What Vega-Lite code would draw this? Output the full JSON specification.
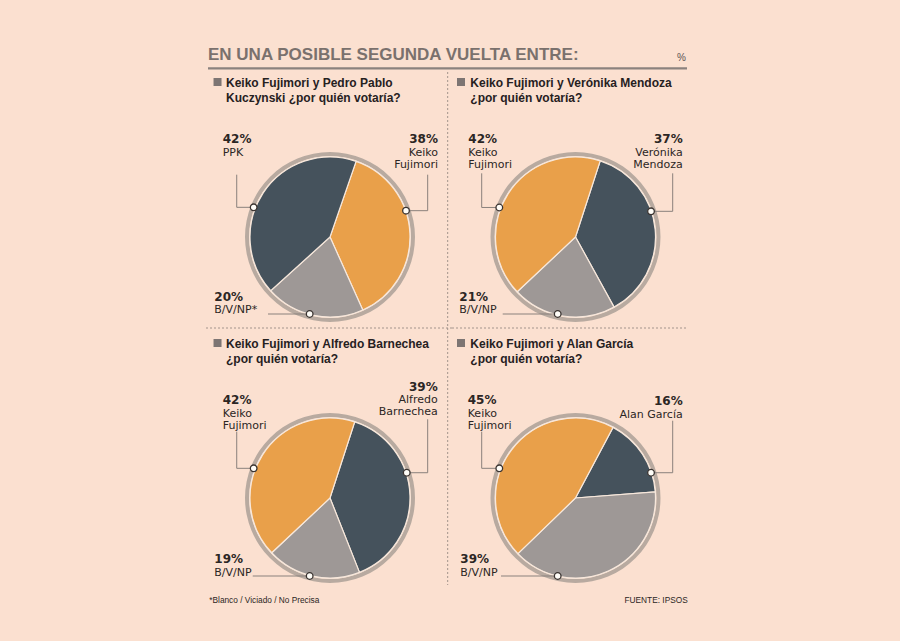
{
  "$schema": "https://vega.github.io/schema/vega-lite/v6.json",
  "background": "#FBE0D0",
  "padding": {"left": 205, "top": 38, "right": 203, "bottom": 23},
  "autosize": {"type": "pad"},
  "config": {"view": {"stroke": null}, "axis": {"disable": true}, "legend": {"disable": true}},
  "datasets": {
    "p1": [
      {"candidato": "Keiko Fujimori", "grupo": "Keiko Fujimori", "pct": 0.38, "orden": 1},
      {"candidato": "Blanco / Viciado / No precisa", "grupo": "B/V/NP", "pct": 0.20, "orden": 2},
      {"candidato": "Pedro Pablo Kuczynski", "grupo": "Contendor", "pct": 0.42, "orden": 3}
    ],
    "p1_anot": [
      {"candidato": "Pedro Pablo Kuczynski", "etiqueta": "PPK", "lado": "izq", "x": -134.1, "y": 117.5, "x_guia": -116.6, "y_guia": 77.9, "x_codo": -116.6, "y_codo": 37.1, "x_punto": -95.4, "y_punto": 37.1},
      {"candidato": "Keiko Fujimori", "etiqueta": "Keiko\nFujimori", "lado": "der", "x": 135, "y": 117.5, "x_guia": 122.1, "y_guia": 77.9, "x_codo": 122.1, "y_codo": 32.9, "x_punto": 95, "y_punto": 32.9},
      {"candidato": "Blanco / Viciado / No precisa", "etiqueta": "B/V/NP*", "lado": "izq", "x": -144.6, "y": -79.6, "x_guia": -77.5, "y_guia": -96.25, "x_codo": -77.5, "y_codo": -96.25, "x_punto": -25.4, "y_punto": -96.25}
    ],
    "p2": [
      {"candidato": "Verónika Mendoza", "grupo": "Contendor", "pct": 0.37, "orden": 1},
      {"candidato": "Blanco / Viciado / No precisa", "grupo": "B/V/NP", "pct": 0.21, "orden": 2},
      {"candidato": "Keiko Fujimori", "grupo": "Keiko Fujimori", "pct": 0.42, "orden": 3}
    ],
    "p2_anot": [
      {"candidato": "Keiko Fujimori", "etiqueta": "Keiko\nFujimori", "lado": "izq", "x": -134, "y": 117.5, "x_guia": -117.25, "y_guia": 79.6, "x_codo": -117.25, "y_codo": 36.9, "x_punto": -95.25, "y_punto": 36.9},
      {"candidato": "Verónika Mendoza", "etiqueta": "Verónika\nMendoza", "lado": "der", "x": 134, "y": 117.5, "x_guia": 121.5, "y_guia": 79.6, "x_codo": 121.5, "y_codo": 32.1, "x_punto": 94.4, "y_punto": 32.1},
      {"candidato": "Blanco / Viciado / No precisa", "etiqueta": "B/V/NP", "lado": "izq", "x": -145.25, "y": -79.6, "x_guia": -91, "y_guia": -96.25, "x_codo": -91, "y_codo": -96.25, "x_punto": -22.25, "y_punto": -96.25}
    ],
    "p3": [
      {"candidato": "Alfredo Barnechea", "grupo": "Contendor", "pct": 0.39, "orden": 1},
      {"candidato": "Blanco / Viciado / No precisa", "grupo": "B/V/NP", "pct": 0.19, "orden": 2},
      {"candidato": "Keiko Fujimori", "grupo": "Keiko Fujimori", "pct": 0.42, "orden": 3}
    ],
    "p3_anot": [
      {"candidato": "Keiko Fujimori", "etiqueta": "Keiko\nFujimori", "lado": "izq", "x": -134.1, "y": 117.5, "x_guia": -116.6, "y_guia": 82.9, "x_codo": -116.6, "y_codo": 37.1, "x_punto": -95.4, "y_punto": 37.1},
      {"candidato": "Alfredo Barnechea", "etiqueta": "Alfredo\nBarnechea", "lado": "der", "x": 134.6, "y": 134.1, "x_guia": 122.1, "y_guia": 98.4, "x_codo": 122.1, "y_codo": 31.6, "x_punto": 95.9, "y_punto": 31.6},
      {"candidato": "Blanco / Viciado / No precisa", "etiqueta": "B/V/NP", "lado": "izq", "x": -144.6, "y": -81.6, "x_guia": -96.6, "y_guia": -97.5, "x_codo": -96.6, "y_codo": -97.5, "x_punto": -25.4, "y_punto": -97.5}
    ],
    "p4": [
      {"candidato": "Alan García", "grupo": "Contendor", "pct": 0.16, "orden": 1},
      {"candidato": "Blanco / Viciado / No precisa", "grupo": "B/V/NP", "pct": 0.39, "orden": 2},
      {"candidato": "Keiko Fujimori", "grupo": "Keiko Fujimori", "pct": 0.45, "orden": 3}
    ],
    "p4_anot": [
      {"candidato": "Keiko Fujimori", "etiqueta": "Keiko\nFujimori", "lado": "izq", "x": -134.75, "y": 117.5, "x_guia": -117.25, "y_guia": 82.9, "x_codo": -117.25, "y_codo": 37.1, "x_punto": -95.25, "y_punto": 37.1},
      {"candidato": "Alan García", "etiqueta": "Alan García", "lado": "der", "x": 134, "y": 116.25, "x_guia": 121.5, "y_guia": 96.6, "x_codo": 121.5, "y_codo": 31.6, "x_punto": 94.4, "y_punto": 31.6},
      {"candidato": "Blanco / Viciado / No precisa", "etiqueta": "B/V/NP", "lado": "izq", "x": -144, "y": -81.6, "x_guia": -93.1, "y_guia": -97.5, "x_codo": -93.1, "y_codo": -97.5, "x_punto": -22.25, "y_punto": -97.5}
    ]
  },
  "spacing": 0,
  "bounds": "flush",
  "columns": 2,
  "concat": [
    {
      "width": 246,
      "height": 290,
      "layer": [
        {"data": {"values": [{}]}, "mark": {"type": "arc", "radius": 85, "radius2": 81, "theta": 0, "theta2": 6.2832, "fill": "#B8AAA0"},
         "encoding": {"x": {"datum": 0, "type": "quantitative", "scale": {"domain": [-155, 152.5], "nice": false, "zero": false}},
                      "y": {"datum": 0, "type": "quantitative", "scale": {"domain": [-113.75, 248.75], "nice": false, "zero": false}}}},
        {"data": {"name": "p1"}, "mark": {"type": "arc", "radius": 80, "stroke": "#F7E8DC", "strokeWidth": 1.2},
         "encoding": {"x": {"datum": 0, "type": "quantitative"}, "y": {"datum": 0, "type": "quantitative"},
                      "theta": {"field": "pct", "type": "quantitative", "stack": true, "scale": {"domain": [0, 1], "range": [0.332, 6.615]}},
                      "color": {"field": "grupo", "type": "nominal", "scale": {"domain": ["Keiko Fujimori", "Contendor", "B/V/NP"], "range": ["#E9A04A", "#45525C", "#9E9896"]}},
                      "order": {"field": "orden", "type": "quantitative"}}},
        {"data": {"name": "p1_anot"}, "mark": {"type": "rule", "color": "#8A817C", "strokeWidth": 1},
         "encoding": {"x": {"field": "x_guia", "type": "quantitative"}, "y": {"field": "y_guia", "type": "quantitative"}, "x2": {"field": "x_codo"}, "y2": {"field": "y_codo"}}},
        {"data": {"name": "p1_anot"}, "mark": {"type": "rule", "color": "#8A817C", "strokeWidth": 1},
         "encoding": {"x": {"field": "x_codo", "type": "quantitative"}, "y": {"field": "y_codo", "type": "quantitative"}, "x2": {"field": "x_punto"}, "y2": {"field": "y_punto"}}},
        {"data": {"name": "p1_anot"}, "mark": {"type": "point", "shape": "circle", "size": 44, "filled": true, "fill": "#FFFDF8", "stroke": "#3A3330", "strokeWidth": 1.3, "opacity": 1},
         "encoding": {"x": {"field": "x_punto", "type": "quantitative"}, "y": {"field": "y_punto", "type": "quantitative"}}},
        {"data": {"name": "p1_anot"}, "transform": [{"filter": "datum.lado === 'izq'"}, {"lookup": "candidato", "from": {"data": {"name": "p1"}, "key": "candidato", "fields": ["pct"]}}],
         "mark": {"type": "text", "align": "left", "baseline": "alphabetic", "font": "DejaVu Sans", "fontSize": 12, "fontWeight": "bold", "color": "#2B2624"},
         "encoding": {"x": {"field": "x", "type": "quantitative"}, "y": {"field": "y", "type": "quantitative"}, "text": {"field": "pct", "type": "quantitative", "format": ".0%"}}},
        {"data": {"name": "p1_anot"}, "transform": [{"filter": "datum.lado === 'der'"}, {"lookup": "candidato", "from": {"data": {"name": "p1"}, "key": "candidato", "fields": ["pct"]}}],
         "mark": {"type": "text", "align": "right", "baseline": "alphabetic", "font": "DejaVu Sans", "fontSize": 12, "fontWeight": "bold", "color": "#2B2624"},
         "encoding": {"x": {"field": "x", "type": "quantitative"}, "y": {"field": "y", "type": "quantitative"}, "text": {"field": "pct", "type": "quantitative", "format": ".0%"}}},
        {"data": {"name": "p1_anot"}, "transform": [{"filter": "datum.lado === 'izq'"}],
         "mark": {"type": "text", "align": "left", "baseline": "alphabetic", "font": "DejaVu Sans", "fontSize": 11, "lineBreak": "\n", "lineHeight": 12, "dy": 12.5, "color": "#2B2624"},
         "encoding": {"x": {"field": "x", "type": "quantitative"}, "y": {"field": "y", "type": "quantitative"}, "text": {"field": "etiqueta", "type": "nominal"}}},
        {"data": {"name": "p1_anot"}, "transform": [{"filter": "datum.lado === 'der'"}],
         "mark": {"type": "text", "align": "right", "baseline": "alphabetic", "font": "DejaVu Sans", "fontSize": 11, "lineBreak": "\n", "lineHeight": 12, "dy": 12.5, "color": "#2B2624"},
         "encoding": {"x": {"field": "x", "type": "quantitative"}, "y": {"field": "y", "type": "quantitative"}, "text": {"field": "etiqueta", "type": "nominal"}}},
        {"data": {"values": [{}]}, "mark": {"type": "square", "size": 64, "color": "#7D7573", "opacity": 1},
         "encoding": {"x": {"datum": -140.6, "type": "quantitative"}, "y": {"datum": 193.75, "type": "quantitative"}}},
        {"data": {"values": [{}]}, "mark": {"type": "text", "align": "left", "baseline": "alphabetic", "font": "Liberation Sans", "fontSize": 12, "fontWeight": "bold", "lineBreak": "\n", "lineHeight": 15, "color": "#26211F"},
         "encoding": {"x": {"datum": -130, "type": "quantitative"}, "y": {"datum": 187.5, "type": "quantitative"}, "text": {"value": "Keiko Fujimori y Pedro Pablo\nKuczynski ¿por quién votaría?"}}},
        {"data": {"values": [{}]}, "mark": {"type": "text", "align": "left", "baseline": "alphabetic", "font": "Liberation Sans", "fontSize": 17, "fontWeight": "bold", "color": "#7A716D"},
         "encoding": {"x": {"datum": -152.5, "type": "quantitative"}, "y": {"datum": 221.25, "type": "quantitative"}, "text": {"value": "EN UNA POSIBLE SEGUNDA VUELTA ENTRE:"}}},
        {"data": {"values": [{}]}, "mark": {"type": "text", "align": "right", "baseline": "alphabetic", "font": "Liberation Sans", "fontSize": 10, "color": "#5A5250"},
         "encoding": {"x": {"datum": 445, "type": "quantitative"}, "y": {"datum": 220, "type": "quantitative"}, "text": {"value": "%"}}},
        {"data": {"values": [{}]}, "mark": {"type": "rule", "color": "#8B827E", "strokeWidth": 2.2},
         "encoding": {"x": {"datum": -152.5, "type": "quantitative"}, "x2": {"datum": 446.25}, "y": {"datum": 210.9, "type": "quantitative"}}},
        {"data": {"values": [{}]}, "mark": {"type": "rule", "color": "#A3948C", "strokeWidth": 1, "strokeDash": [2, 2]},
         "encoding": {"x": {"datum": -155, "type": "quantitative"}, "x2": {"datum": 152.5}, "y": {"datum": -113.75, "type": "quantitative"}}},
        {"data": {"values": [{}]}, "mark": {"type": "rule", "color": "#A3948C", "strokeWidth": 1, "strokeDash": [2, 2]},
         "encoding": {"x": {"datum": 147.1, "type": "quantitative"}, "y": {"datum": 206.25, "type": "quantitative"}, "y2": {"datum": -113.75}}}
      ]
    },
    {
      "width": 246,
      "height": 290,
      "layer": [
        {"data": {"values": [{}]}, "mark": {"type": "arc", "radius": 85, "radius2": 81, "theta": 0, "theta2": 6.2832, "fill": "#B8AAA0"},
         "encoding": {"x": {"datum": 0, "type": "quantitative", "scale": {"domain": [-154.375, 153.125], "nice": false, "zero": false}},
                      "y": {"datum": 0, "type": "quantitative", "scale": {"domain": [-113.75, 248.75], "nice": false, "zero": false}}}},
        {"data": {"name": "p2"}, "mark": {"type": "arc", "radius": 80, "stroke": "#F7E8DC", "strokeWidth": 1.2},
         "encoding": {"x": {"datum": 0, "type": "quantitative"}, "y": {"datum": 0, "type": "quantitative"},
                      "theta": {"field": "pct", "type": "quantitative", "stack": true, "scale": {"domain": [0, 1], "range": [0.314, 6.597]}},
                      "color": {"field": "grupo", "type": "nominal", "scale": {"domain": ["Keiko Fujimori", "Contendor", "B/V/NP"], "range": ["#E9A04A", "#45525C", "#9E9896"]}},
                      "order": {"field": "orden", "type": "quantitative"}}},
        {"data": {"name": "p2_anot"}, "mark": {"type": "rule", "color": "#8A817C", "strokeWidth": 1},
         "encoding": {"x": {"field": "x_guia", "type": "quantitative"}, "y": {"field": "y_guia", "type": "quantitative"}, "x2": {"field": "x_codo"}, "y2": {"field": "y_codo"}}},
        {"data": {"name": "p2_anot"}, "mark": {"type": "rule", "color": "#8A817C", "strokeWidth": 1},
         "encoding": {"x": {"field": "x_codo", "type": "quantitative"}, "y": {"field": "y_codo", "type": "quantitative"}, "x2": {"field": "x_punto"}, "y2": {"field": "y_punto"}}},
        {"data": {"name": "p2_anot"}, "mark": {"type": "point", "shape": "circle", "size": 44, "filled": true, "fill": "#FFFDF8", "stroke": "#3A3330", "strokeWidth": 1.3, "opacity": 1},
         "encoding": {"x": {"field": "x_punto", "type": "quantitative"}, "y": {"field": "y_punto", "type": "quantitative"}}},
        {"data": {"name": "p2_anot"}, "transform": [{"filter": "datum.lado === 'izq'"}, {"lookup": "candidato", "from": {"data": {"name": "p2"}, "key": "candidato", "fields": ["pct"]}}],
         "mark": {"type": "text", "align": "left", "baseline": "alphabetic", "font": "DejaVu Sans", "fontSize": 12, "fontWeight": "bold", "color": "#2B2624"},
         "encoding": {"x": {"field": "x", "type": "quantitative"}, "y": {"field": "y", "type": "quantitative"}, "text": {"field": "pct", "type": "quantitative", "format": ".0%"}}},
        {"data": {"name": "p2_anot"}, "transform": [{"filter": "datum.lado === 'der'"}, {"lookup": "candidato", "from": {"data": {"name": "p2"}, "key": "candidato", "fields": ["pct"]}}],
         "mark": {"type": "text", "align": "right", "baseline": "alphabetic", "font": "DejaVu Sans", "fontSize": 12, "fontWeight": "bold", "color": "#2B2624"},
         "encoding": {"x": {"field": "x", "type": "quantitative"}, "y": {"field": "y", "type": "quantitative"}, "text": {"field": "pct", "type": "quantitative", "format": ".0%"}}},
        {"data": {"name": "p2_anot"}, "transform": [{"filter": "datum.lado === 'izq'"}],
         "mark": {"type": "text", "align": "left", "baseline": "alphabetic", "font": "DejaVu Sans", "fontSize": 11, "lineBreak": "\n", "lineHeight": 12, "dy": 12.5, "color": "#2B2624"},
         "encoding": {"x": {"field": "x", "type": "quantitative"}, "y": {"field": "y", "type": "quantitative"}, "text": {"field": "etiqueta", "type": "nominal"}}},
        {"data": {"name": "p2_anot"}, "transform": [{"filter": "datum.lado === 'der'"}],
         "mark": {"type": "text", "align": "right", "baseline": "alphabetic", "font": "DejaVu Sans", "fontSize": 11, "lineBreak": "\n", "lineHeight": 12, "dy": 12.5, "color": "#2B2624"},
         "encoding": {"x": {"field": "x", "type": "quantitative"}, "y": {"field": "y", "type": "quantitative"}, "text": {"field": "etiqueta", "type": "nominal"}}},
        {"data": {"values": [{}]}, "mark": {"type": "square", "size": 64, "color": "#7D7573", "opacity": 1},
         "encoding": {"x": {"datum": -143.1, "type": "quantitative"}, "y": {"datum": 193.75, "type": "quantitative"}}},
        {"data": {"values": [{}]}, "mark": {"type": "text", "align": "left", "baseline": "alphabetic", "font": "Liberation Sans", "fontSize": 12, "fontWeight": "bold", "lineBreak": "\n", "lineHeight": 15, "color": "#26211F"},
         "encoding": {"x": {"datum": -131.5, "type": "quantitative"}, "y": {"datum": 187.5, "type": "quantitative"}, "text": {"value": "Keiko Fujimori y Verónika Mendoza\n¿por quién votaría?"}}},
        {"data": {"values": [{}]}, "mark": {"type": "rule", "color": "#A3948C", "strokeWidth": 1, "strokeDash": [2, 2]},
         "encoding": {"x": {"datum": -154.375, "type": "quantitative"}, "x2": {"datum": 139.375}, "y": {"datum": -113.75, "type": "quantitative"}}}
      ]
    },
    {
      "width": 246,
      "height": 290,
      "layer": [
        {"data": {"values": [{}]}, "mark": {"type": "arc", "radius": 85, "radius2": 81, "theta": 0, "theta2": 6.2832, "fill": "#B8AAA0"},
         "encoding": {"x": {"datum": 0, "type": "quantitative", "scale": {"domain": [-155, 152.5], "nice": false, "zero": false}},
                      "y": {"datum": 0, "type": "quantitative", "scale": {"domain": [-150, 212.5], "nice": false, "zero": false}}}},
        {"data": {"name": "p3"}, "mark": {"type": "arc", "radius": 80, "stroke": "#F7E8DC", "strokeWidth": 1.2},
         "encoding": {"x": {"datum": 0, "type": "quantitative"}, "y": {"datum": 0, "type": "quantitative"},
                      "theta": {"field": "pct", "type": "quantitative", "stack": true, "scale": {"domain": [0, 1], "range": [0.314, 6.597]}},
                      "color": {"field": "grupo", "type": "nominal", "scale": {"domain": ["Keiko Fujimori", "Contendor", "B/V/NP"], "range": ["#E9A04A", "#45525C", "#9E9896"]}},
                      "order": {"field": "orden", "type": "quantitative"}}},
        {"data": {"name": "p3_anot"}, "mark": {"type": "rule", "color": "#8A817C", "strokeWidth": 1},
         "encoding": {"x": {"field": "x_guia", "type": "quantitative"}, "y": {"field": "y_guia", "type": "quantitative"}, "x2": {"field": "x_codo"}, "y2": {"field": "y_codo"}}},
        {"data": {"name": "p3_anot"}, "mark": {"type": "rule", "color": "#8A817C", "strokeWidth": 1},
         "encoding": {"x": {"field": "x_codo", "type": "quantitative"}, "y": {"field": "y_codo", "type": "quantitative"}, "x2": {"field": "x_punto"}, "y2": {"field": "y_punto"}}},
        {"data": {"name": "p3_anot"}, "mark": {"type": "point", "shape": "circle", "size": 44, "filled": true, "fill": "#FFFDF8", "stroke": "#3A3330", "strokeWidth": 1.3, "opacity": 1},
         "encoding": {"x": {"field": "x_punto", "type": "quantitative"}, "y": {"field": "y_punto", "type": "quantitative"}}},
        {"data": {"name": "p3_anot"}, "transform": [{"filter": "datum.lado === 'izq'"}, {"lookup": "candidato", "from": {"data": {"name": "p3"}, "key": "candidato", "fields": ["pct"]}}],
         "mark": {"type": "text", "align": "left", "baseline": "alphabetic", "font": "DejaVu Sans", "fontSize": 12, "fontWeight": "bold", "color": "#2B2624"},
         "encoding": {"x": {"field": "x", "type": "quantitative"}, "y": {"field": "y", "type": "quantitative"}, "text": {"field": "pct", "type": "quantitative", "format": ".0%"}}},
        {"data": {"name": "p3_anot"}, "transform": [{"filter": "datum.lado === 'der'"}, {"lookup": "candidato", "from": {"data": {"name": "p3"}, "key": "candidato", "fields": ["pct"]}}],
         "mark": {"type": "text", "align": "right", "baseline": "alphabetic", "font": "DejaVu Sans", "fontSize": 12, "fontWeight": "bold", "color": "#2B2624"},
         "encoding": {"x": {"field": "x", "type": "quantitative"}, "y": {"field": "y", "type": "quantitative"}, "text": {"field": "pct", "type": "quantitative", "format": ".0%"}}},
        {"data": {"name": "p3_anot"}, "transform": [{"filter": "datum.lado === 'izq'"}],
         "mark": {"type": "text", "align": "left", "baseline": "alphabetic", "font": "DejaVu Sans", "fontSize": 11, "lineBreak": "\n", "lineHeight": 12, "dy": 12.5, "color": "#2B2624"},
         "encoding": {"x": {"field": "x", "type": "quantitative"}, "y": {"field": "y", "type": "quantitative"}, "text": {"field": "etiqueta", "type": "nominal"}}},
        {"data": {"name": "p3_anot"}, "transform": [{"filter": "datum.lado === 'der'"}],
         "mark": {"type": "text", "align": "right", "baseline": "alphabetic", "font": "DejaVu Sans", "fontSize": 11, "lineBreak": "\n", "lineHeight": 12, "dy": 12.5, "color": "#2B2624"},
         "encoding": {"x": {"field": "x", "type": "quantitative"}, "y": {"field": "y", "type": "quantitative"}, "text": {"field": "etiqueta", "type": "nominal"}}},
        {"data": {"values": [{}]}, "mark": {"type": "square", "size": 64, "color": "#7D7573", "opacity": 1},
         "encoding": {"x": {"datum": -140.6, "type": "quantitative"}, "y": {"datum": 193.75, "type": "quantitative"}}},
        {"data": {"values": [{}]}, "mark": {"type": "text", "align": "left", "baseline": "alphabetic", "font": "Liberation Sans", "fontSize": 12, "fontWeight": "bold", "lineBreak": "\n", "lineHeight": 15, "color": "#26211F"},
         "encoding": {"x": {"datum": -130, "type": "quantitative"}, "y": {"datum": 187.5, "type": "quantitative"}, "text": {"value": "Keiko Fujimori y Alfredo Barnechea\n¿por quién votaría?"}}},
        {"data": {"values": [{}]}, "mark": {"type": "rule", "color": "#A3948C", "strokeWidth": 1, "strokeDash": [2, 2]},
         "encoding": {"x": {"datum": 147.1, "type": "quantitative"}, "y": {"datum": 212.5, "type": "quantitative"}, "y2": {"datum": -108.75}}},
        {"data": {"values": [{}]}, "mark": {"type": "text", "align": "left", "baseline": "alphabetic", "font": "Liberation Sans", "fontSize": 8.3, "color": "#2B2624"},
         "encoding": {"x": {"datum": -150.9, "type": "quantitative"}, "y": {"datum": -131.6, "type": "quantitative"}, "text": {"value": "*Blanco / Viciado / No Precisa"}}}
      ]
    },
    {
      "width": 246,
      "height": 290,
      "layer": [
        {"data": {"values": [{}]}, "mark": {"type": "arc", "radius": 85, "radius2": 81, "theta": 0, "theta2": 6.2832, "fill": "#B8AAA0"},
         "encoding": {"x": {"datum": 0, "type": "quantitative", "scale": {"domain": [-154.375, 153.125], "nice": false, "zero": false}},
                      "y": {"datum": 0, "type": "quantitative", "scale": {"domain": [-150, 212.5], "nice": false, "zero": false}}}},
        {"data": {"name": "p4"}, "mark": {"type": "arc", "radius": 80, "stroke": "#F7E8DC", "strokeWidth": 1.2},
         "encoding": {"x": {"datum": 0, "type": "quantitative"}, "y": {"datum": 0, "type": "quantitative"},
                      "theta": {"field": "pct", "type": "quantitative", "stack": true, "scale": {"domain": [0, 1], "range": [0.489, 6.772]}},
                      "color": {"field": "grupo", "type": "nominal", "scale": {"domain": ["Keiko Fujimori", "Contendor", "B/V/NP"], "range": ["#E9A04A", "#45525C", "#9E9896"]}},
                      "order": {"field": "orden", "type": "quantitative"}}},
        {"data": {"name": "p4_anot"}, "mark": {"type": "rule", "color": "#8A817C", "strokeWidth": 1},
         "encoding": {"x": {"field": "x_guia", "type": "quantitative"}, "y": {"field": "y_guia", "type": "quantitative"}, "x2": {"field": "x_codo"}, "y2": {"field": "y_codo"}}},
        {"data": {"name": "p4_anot"}, "mark": {"type": "rule", "color": "#8A817C", "strokeWidth": 1},
         "encoding": {"x": {"field": "x_codo", "type": "quantitative"}, "y": {"field": "y_codo", "type": "quantitative"}, "x2": {"field": "x_punto"}, "y2": {"field": "y_punto"}}},
        {"data": {"name": "p4_anot"}, "mark": {"type": "point", "shape": "circle", "size": 44, "filled": true, "fill": "#FFFDF8", "stroke": "#3A3330", "strokeWidth": 1.3, "opacity": 1},
         "encoding": {"x": {"field": "x_punto", "type": "quantitative"}, "y": {"field": "y_punto", "type": "quantitative"}}},
        {"data": {"name": "p4_anot"}, "transform": [{"filter": "datum.lado === 'izq'"}, {"lookup": "candidato", "from": {"data": {"name": "p4"}, "key": "candidato", "fields": ["pct"]}}],
         "mark": {"type": "text", "align": "left", "baseline": "alphabetic", "font": "DejaVu Sans", "fontSize": 12, "fontWeight": "bold", "color": "#2B2624"},
         "encoding": {"x": {"field": "x", "type": "quantitative"}, "y": {"field": "y", "type": "quantitative"}, "text": {"field": "pct", "type": "quantitative", "format": ".0%"}}},
        {"data": {"name": "p4_anot"}, "transform": [{"filter": "datum.lado === 'der'"}, {"lookup": "candidato", "from": {"data": {"name": "p4"}, "key": "candidato", "fields": ["pct"]}}],
         "mark": {"type": "text", "align": "right", "baseline": "alphabetic", "font": "DejaVu Sans", "fontSize": 12, "fontWeight": "bold", "color": "#2B2624"},
         "encoding": {"x": {"field": "x", "type": "quantitative"}, "y": {"field": "y", "type": "quantitative"}, "text": {"field": "pct", "type": "quantitative", "format": ".0%"}}},
        {"data": {"name": "p4_anot"}, "transform": [{"filter": "datum.lado === 'izq'"}],
         "mark": {"type": "text", "align": "left", "baseline": "alphabetic", "font": "DejaVu Sans", "fontSize": 11, "lineBreak": "\n", "lineHeight": 12, "dy": 12.5, "color": "#2B2624"},
         "encoding": {"x": {"field": "x", "type": "quantitative"}, "y": {"field": "y", "type": "quantitative"}, "text": {"field": "etiqueta", "type": "nominal"}}},
        {"data": {"name": "p4_anot"}, "transform": [{"filter": "datum.lado === 'der'"}],
         "mark": {"type": "text", "align": "right", "baseline": "alphabetic", "font": "DejaVu Sans", "fontSize": 11, "lineBreak": "\n", "lineHeight": 12, "dy": 12.5, "color": "#2B2624"},
         "encoding": {"x": {"field": "x", "type": "quantitative"}, "y": {"field": "y", "type": "quantitative"}, "text": {"field": "etiqueta", "type": "nominal"}}},
        {"data": {"values": [{}]}, "mark": {"type": "square", "size": 64, "color": "#7D7573", "opacity": 1},
         "encoding": {"x": {"datum": -143.1, "type": "quantitative"}, "y": {"datum": 193.75, "type": "quantitative"}}},
        {"data": {"values": [{}]}, "mark": {"type": "text", "align": "left", "baseline": "alphabetic", "font": "Liberation Sans", "fontSize": 12, "fontWeight": "bold", "lineBreak": "\n", "lineHeight": 15, "color": "#26211F"},
         "encoding": {"x": {"datum": -131.5, "type": "quantitative"}, "y": {"datum": 187.5, "type": "quantitative"}, "text": {"value": "Keiko Fujimori y Alan García\n¿por quién votaría?"}}},
        {"data": {"values": [{}]}, "mark": {"type": "text", "align": "right", "baseline": "alphabetic", "font": "Liberation Sans", "fontSize": 8.3, "color": "#2B2624"},
         "encoding": {"x": {"datum": 140.25, "type": "quantitative"}, "y": {"datum": -131.6, "type": "quantitative"}, "text": {"value": "FUENTE: IPSOS"}}}
      ]
    }
  ]
}
